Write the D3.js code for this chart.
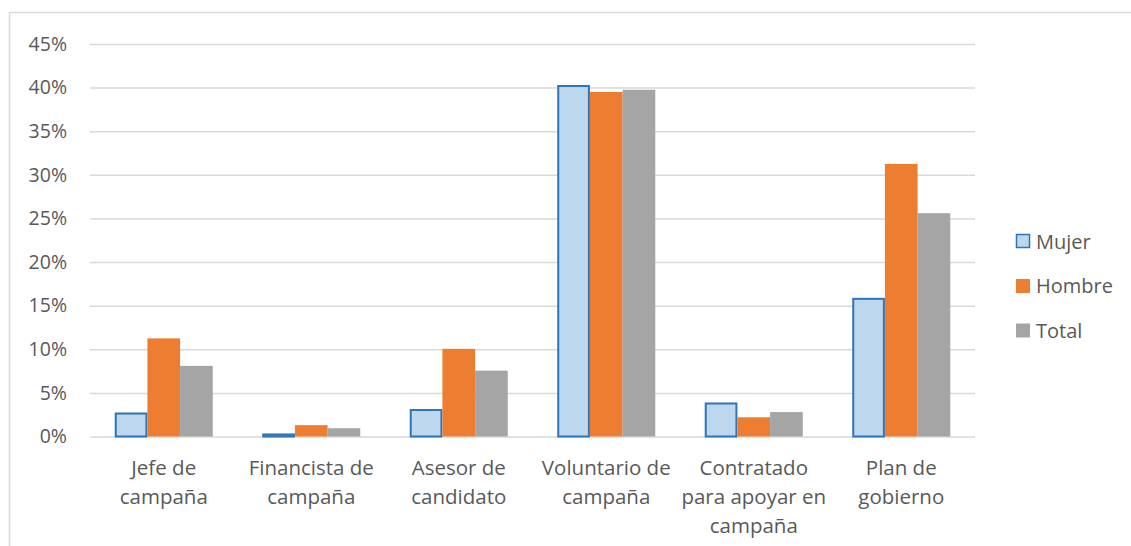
<!DOCTYPE html>
<html><head><meta charset="utf-8">
<script src="https://cdn.jsdelivr.net/npm/d3@7"></script>
<style>body{margin:0;background:#fff}svg{display:block}</style>
</head><body>
<script>
const categories = [["Jefe de","campaña"],["Financista de","campaña"],["Asesor de","candidato"],["Voluntario de","campaña"],["Contratado","para apoyar en","campaña"],["Plan de","gobierno"]];
const seriesNames = ["Mujer","Hombre","Total"];
const mujer = [2.75, 0.35, 3.15, 40.3, 3.9, 15.9];
const hombre = [11.25, 1.3, 10.05, 39.5, 2.2, 31.25];
const total = [8.1, 0.95, 7.55, 39.75, 2.8, 25.6];
const yTicks = [0,5,10,15,20,25,30,35,40,45];

const W=1131,H=546;
const svg=d3.select("body").append("svg").attr("width",W).attr("height",H);
const font="'Open Sans', sans-serif";
const textCol="#595959";
svg.append("rect").attr("x",9.5).attr("y",12.5).attr("width",W).attr("height",H).attr("fill","none").attr("stroke","#d9d9d9").attr("stroke-width",1.5);

const plot={left:90,right:975,top:44,bottom:436.5};
const y=d3.scaleLinear().domain([0,45]).range([plot.bottom,plot.top]);
const x0=d3.scaleBand().domain(d3.range(categories.length)).range([plot.left,plot.right]).paddingInner(0).paddingOuter(0);
const x1=d3.scaleBand().domain(seriesNames).range([0,x0.bandwidth()]).paddingInner(0).paddingOuter(0.757);

const grid=svg.append("g").attr("transform",`translate(${plot.left},0)`)
 .call(d3.axisLeft(y).tickValues(yTicks).tickSize(-(plot.right-plot.left)).tickFormat(d=>d+"%"));
grid.select(".domain").remove();
grid.selectAll(".tick line").attr("stroke","#d9d9d9").attr("stroke-width",1.5);
grid.selectAll(".tick text").attr("x",-23).attr("fill",textCol).style("font-family",font).style("font-size","19.5px");

const data=[mujer,hombre,total];
const fills=["#bdd7ee","#ed7d31","#a5a5a5"];
const g=svg.append("g");
seriesNames.forEach((s,si)=>{
  g.selectAll(".b"+si).data(data[si]).join("rect")
   .attr("x",(d,i)=>x0(i)+x1(s)+(si===0?1:0))
   .attr("width",x1.bandwidth()-(si===0?2:0))
   .attr("y",d=>y(d)+(si===0?1:0))
   .attr("height",d=>plot.bottom-y(d)-(si===0?1:0))
   .attr("fill",fills[si])
   .attr("stroke",si===0?"#2e75b6":"none").attr("stroke-width",2);
});

const xa=svg.append("g");
categories.forEach((lines,i)=>{
  const t=xa.append("text").attr("x",x0(i)+x0.bandwidth()/2).attr("y",475)
   .attr("text-anchor","middle").attr("fill",textCol).style("font-family",font).style("font-size","20.5px");
  lines.forEach((l,j)=>t.append("tspan").attr("x",x0(i)+x0.bandwidth()/2).attr("dy",j===0?0:29).text(l));
});

const leg=svg.append("g");
seriesNames.forEach((s,i)=>{
  const cy=241+i*44.5;
  leg.append("rect").attr("x",i===0?1016.5:1016).attr("y",cy-6.5).attr("width",i===0?13:14).attr("height",i===0?13:14)
   .attr("fill",fills[i]).attr("stroke",i===0?"#2e75b6":"none").attr("stroke-width",i===0?1.5:0);
  leg.append("text").attr("x",1036).attr("y",cy+7.5).attr("fill",textCol).style("font-family",font).style("font-size","20px").text(s);
});
</script>
</body></html>
